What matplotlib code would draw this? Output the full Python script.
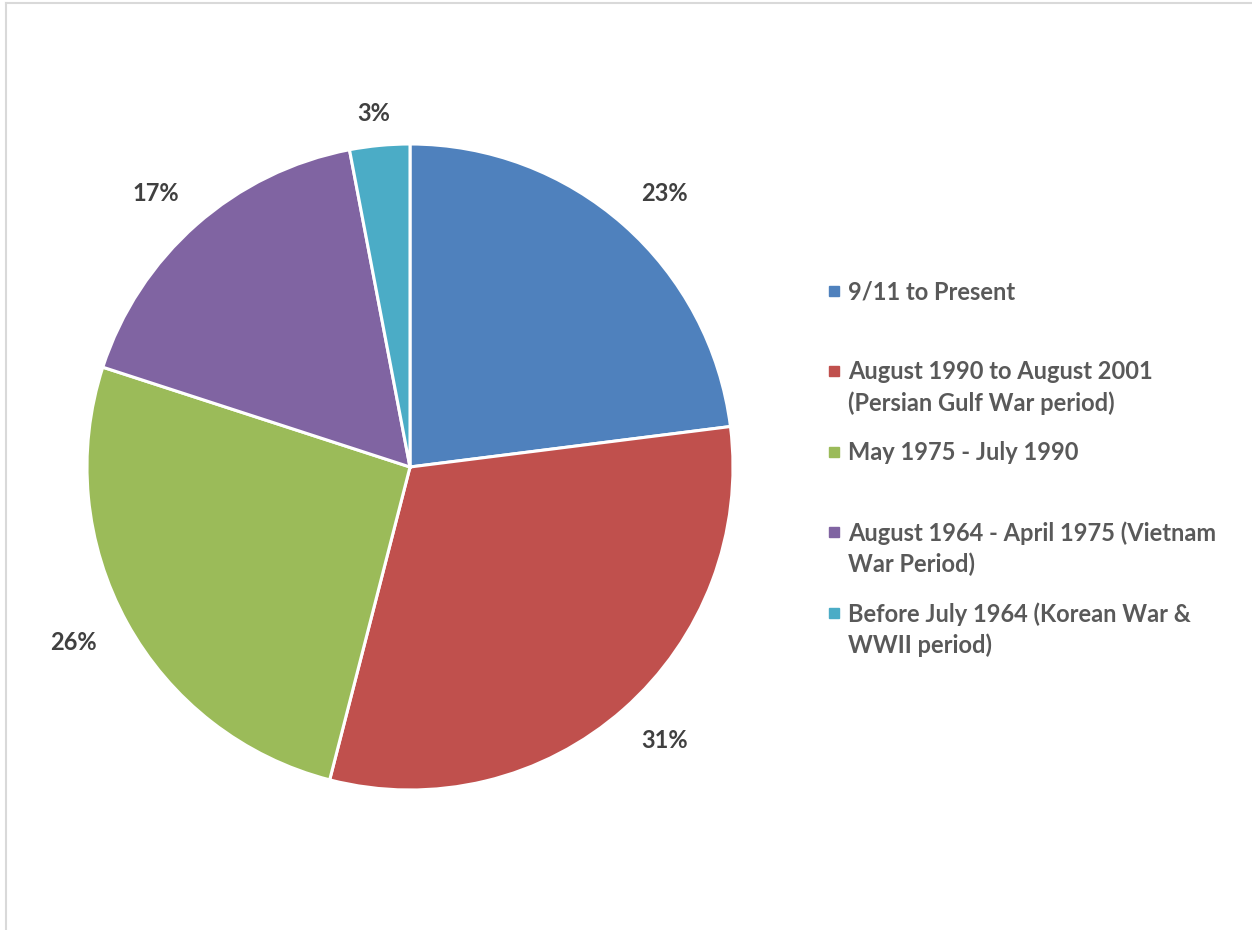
import numpy as np
import matplotlib.pyplot as plt
from matplotlib.lines import Line2D
from matplotlib.patches import Rectangle

categories = [
    "9/11 to Present",
    "August 1990 to August 2001\n(Persian Gulf War period)",
    "May 1975 - July 1990",
    "August 1964 - April 1975 (Vietnam\nWar Period)",
    "Before July 1964 (Korean War &\nWWII period)",
]
shares = [23, 31, 26, 17, 3]
colors = ["#4F81BD", "#C0504D", "#9BBB59", "#8064A2", "#4BACC6"]

plt.rcParams["font.family"] = ["Lato", "DejaVu Sans"]
plt.rcParams["font.weight"] = "bold"

W, H = 1252, 930
fig = plt.figure(figsize=(W / 100, H / 100), dpi=100)

# pie centre and radius in pixels
cx, cy, r = 410, 467, 323
ax = fig.add_axes([(cx - r) / W, (H - cy - r) / H, 2 * r / W, 2 * r / H])
wedges, texts = ax.pie(shares, colors=colors, startangle=90, counterclock=False,
                       wedgeprops=dict(edgecolor="white", linewidth=2.2),
                       labels=[f"{v}%" for v in shares],
                       textprops=dict(fontsize=17, color="#404040", fontweight="bold"))

# labels sit just outside the rim; wider boxes push out further sideways
for w, t in zip(wedges, texts):
    mid = np.deg2rad((w.theta1 + w.theta2) / 2)
    ky = 1.10 if abs(w.theta2 - w.theta1) < 20 else 1.13
    t.set_position((1.19 * np.cos(mid), ky * np.sin(mid)))
    t.set_ha("center")
    t.set_va("center")
    t.set_clip_on(False)
ax.set_xlim(-1, 1)
ax.set_ylim(-1, 1)
ax.set_aspect("equal")
ax.axis("off")

# legend drawn by hand
rows = [291, 371, 452, 532, 613]
for name, col, yy in zip(categories, colors, rows):
    fig.add_artist(Rectangle((829 / W, 1 - (yy + 5) / H), 10 / W, 10 / H,
                             transform=fig.transFigure, color=col))
    fig.text(848 / W, 1 - (yy - 11) / H, name, ha="left", va="top",
             fontsize=17, color="#595959", fontweight="bold", linespacing=1.42)

# chart frame edges
fig.add_artist(Line2D([6 / W, 6 / W], [0, 1 - 3 / H], transform=fig.transFigure,
                      color="#D9D9D9", linewidth=1.5))
fig.add_artist(Line2D([6 / W, 1], [1 - 3 / H, 1 - 3 / H], transform=fig.transFigure,
                      color="#D9D9D9", linewidth=1.5))

fig.savefig("out.png", dpi=100, facecolor="white")
